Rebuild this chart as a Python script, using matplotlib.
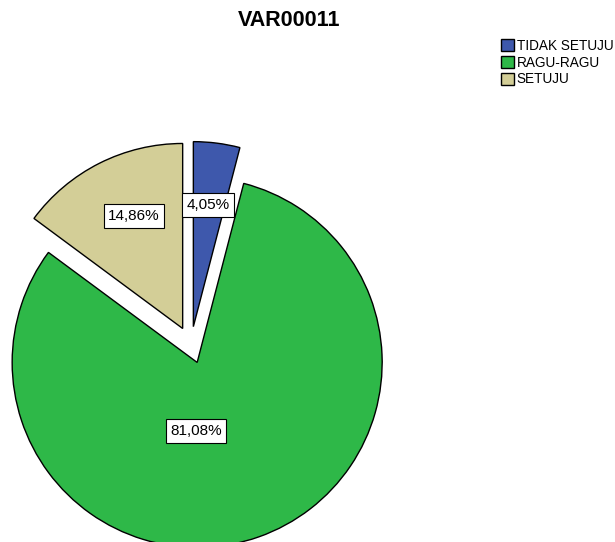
import matplotlib.pyplot as plt

categories = ["TIDAK SETUJU", "RAGU-RAGU", "SETUJU"]
percents = [4.05, 81.08, 14.86]
pct_labels = ["4,05%", "81,08%", "14,86%"]
colors = ["#3E58AC", "#2EB848", "#D3CE97"]

plt.rcParams['font.family'] = ['Liberation Sans', 'DejaVu Sans']

W, H = 615, 542
fig = plt.figure(figsize=(W / 100, H / 100), dpi=100)
ax = fig.add_axes([0, 0, 1, 1])

# pie geometry in pixel units (y up)
cx, cy, r = 191, H - 345, 185

# explode is an absolute offset, so scale it by the radius
wedges, texts = ax.pie(percents, colors=colors, startangle=90, counterclock=False,
                       explode=[0.1 * r] * 3, center=(cx, cy), radius=r,
                       wedgeprops=dict(edgecolor='black', linewidth=1.0))

ax.set_xlim(0, W)
ax.set_ylim(0, H)
ax.set_aspect('equal')
ax.axis('off')

# label boxes (SPSS places them itself)
label_pos = [(208, 205), (196, 431), (134, 216)]
for lab, (x, y) in zip(pct_labels, label_pos):
    ax.text(x, H - y, lab, ha='center', va='center', fontsize=11,
            bbox=dict(boxstyle='square,pad=0.3', facecolor='white', edgecolor='black', linewidth=0.8))

fig.text(289 / W, 1 - 21 / H, "VAR00011", ha='center', va='center',
         fontsize=15.5, fontweight='bold')

fig.legend(wedges, categories, loc='upper left', bbox_to_anchor=(501 / W, 1 - 39 / H),
           frameon=False, fontsize=9.8, handlelength=0.95, handleheight=0.95,
           handletextpad=0.2, labelspacing=0.2, borderpad=0, borderaxespad=0)

fig.savefig("out.png", dpi=100)
